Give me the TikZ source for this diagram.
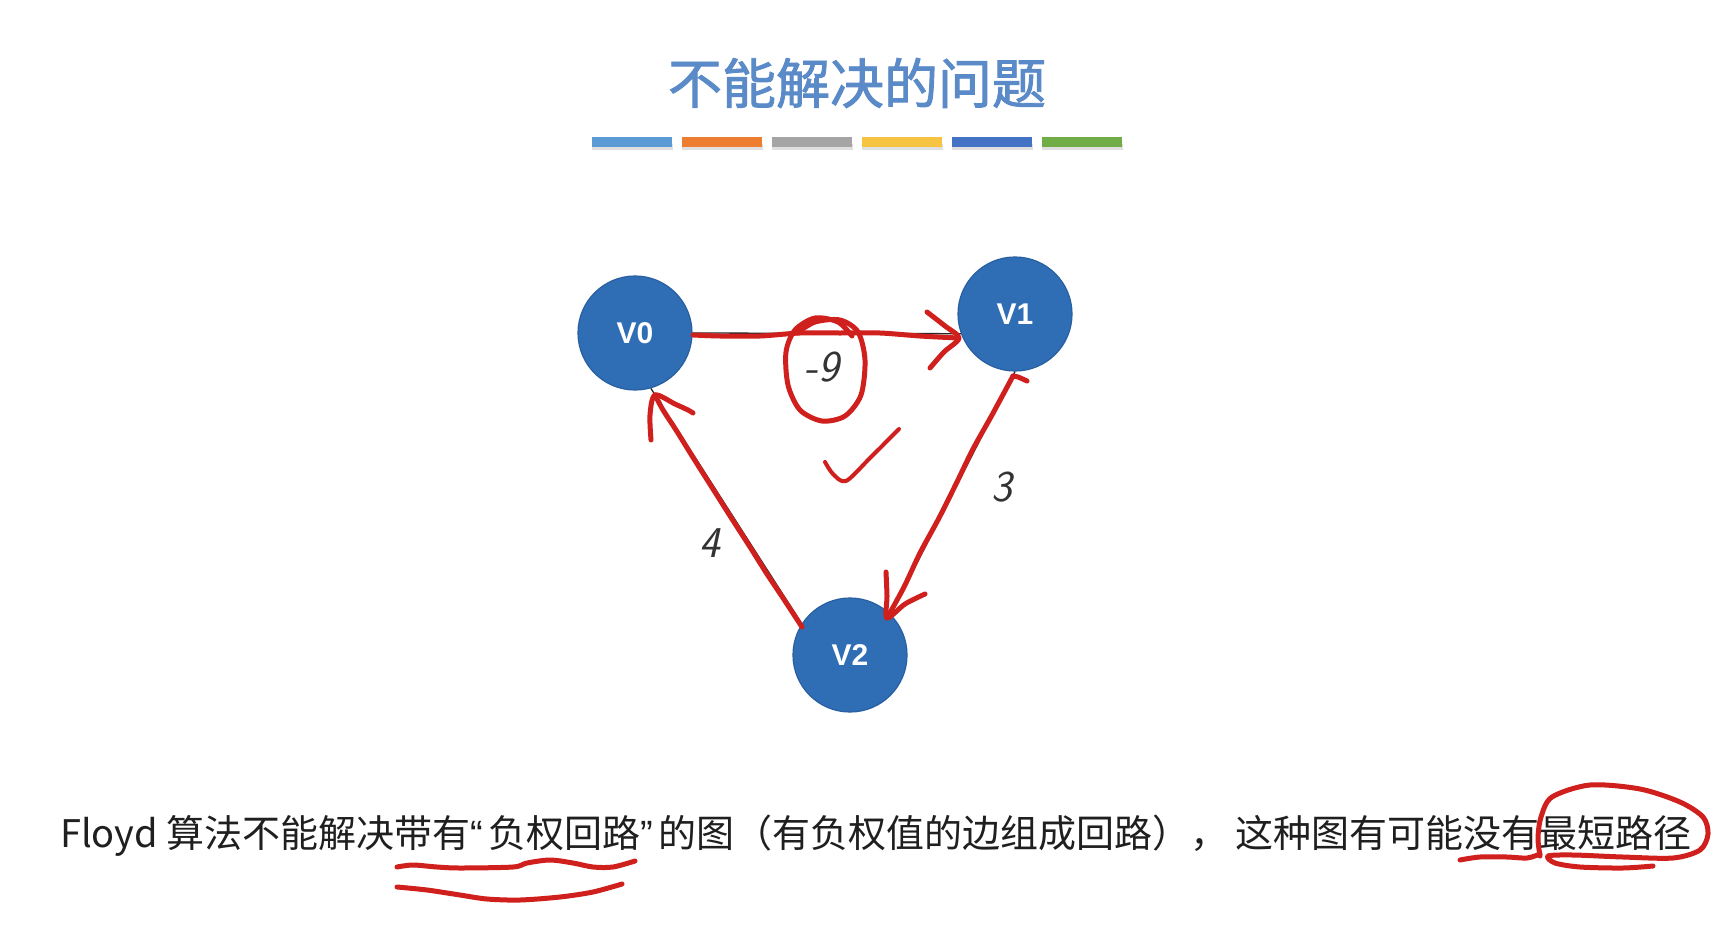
\documentclass[tikz,border=0pt]{standalone}
\usepackage{fontspec}
\setmainfont{Liberation Sans}
\newfontfamily\cjk{Noto Sans CJK SC}
\newfontfamily\cjktitle{Noto Sans CJK SC}[FakeBold=1.6]
\newfontfamily\qfont{Liberation Sans}
\definecolor{titleblue}{RGB}{90,138,200}
\definecolor{nodeblue}{RGB}{47,110,181}
\definecolor{nodeedge}{RGB}{40,95,160}
\definecolor{pen}{RGB}{208,32,30}
\definecolor{barA}{RGB}{91,155,213}
\definecolor{barB}{RGB}{237,125,49}
\definecolor{barC}{RGB}{165,165,165}
\definecolor{barD}{RGB}{246,195,66}
\definecolor{barE}{RGB}{68,114,196}
\definecolor{barF}{RGB}{112,173,71}
\begin{document}
\begin{tikzpicture}[x=1pt,y=-1pt,
  vtx/.style={circle, fill=nodeblue, draw=nodeedge, line width=1.2pt, minimum size=114pt, inner sep=0pt, text=white, font=\fontsize{30}{30}\selectfont\bfseries},
  edge/.style={draw=black!85, line width=1.3pt},
  pen/.style={draw=pen, line width=5pt, line cap=round, line join=round},
  wlab/.style={font=\sffamily\slshape\fontsize{44}{44}\selectfont, text=black!80},
  bar/.style={minimum width=80pt, minimum height=10pt, inner sep=0pt, draw=none}
]
\useasboundingbox (0,0) rectangle (1726,926);
\fill[white] (0,0) rectangle (1726,926);

% title
\node[font=\cjktitle\fontsize{54}{54}\selectfont, text=titleblue] (title) at (857,83) {不能解决的问题};

% colour bars
\foreach \c [count=\i] in {barA,barB,barC,barD,barE,barF} {
  \fill[black, opacity=0.12] ({632+(\i-1)*90-40},144) rectangle ({632+(\i-1)*90+41},150);
  \node[bar, fill=\c] (bar\i) at ({632+(\i-1)*90},142) {};
}

% vertices
\node[vtx] (V0) at (635,333) {V0};
\node[vtx] (V1) at (1015,314) {V1};
\node[vtx] (V2) at (850,655) {V2};

% original edges
\draw[edge] (V0.east) -- (V1.200);
\draw[edge] (V1.south) -- (V2.north east);
\draw[edge] (V2.147) -- (V0.-74);

% weights
\node[wlab] (w01) at (822,367) {-9};
\node[wlab] (w12) at (1002,487) {3};
\node[wlab] (w20) at (710,543) {4};

% red pen: V0 -> V1
\draw[pen] plot[smooth] coordinates {(693,335) (720,336) (760,336) (800,333) (840,333) (880,333) (920,336) (958,338)};
\draw[pen] plot[smooth] coordinates {(927,312) (945,326) (959,338) (944,352) (930,368)};
% circle around -9
\draw[pen] plot[smooth] coordinates {(797,333) (815,322) (840,320) (858,332) (865,360) (861,395) (845,416) (822,421) (800,410) (788,385) (786,352) (795,330) (815,318) (838,322) (852,336)};
% check mark
\draw[pen, line width=4pt] plot[smooth] coordinates {(825,462) (833,474) (846,481) (870,458) (899,429)};
% red pen: V1 -> V2
\draw[pen] plot[smooth] coordinates {(1027,381) (1018,377) (1013,376)};
\draw[pen] plot[smooth] coordinates {(1013,376) (992,415) (973,449) (956,484) (939,518) (920,553) (904,587) (887,618)};
\draw[pen] plot[smooth] coordinates {(886,572) (887,596) (887,618) (905,604) (925,594)};
% red pen: V2 -> V0
\draw[pen] plot[smooth] coordinates {(802,627) (785,601) (767,574) (750,547) (732,519) (713,489) (694,459) (676,430) (663,410) (655,395)};
\draw[pen] plot[smooth] coordinates {(651,440) (650,415) (655,395) (675,404) (688,410) (693,413)};

% description
\node[anchor=west, inner sep=0pt, text=black!88, font=\cjk\fontsize{38}{38}\selectfont] (desc) at (60,836) {Floyd 算法不能解决带有{\qfont “}\hspace{5pt}负权回路{\qfont ”}\hspace{6pt}的图（有负权值的边组成回路），\hspace{7pt}这种图有可能没有最短路径};

% red pen: underlines and ellipse
\draw[pen] plot[smooth] coordinates {(397,867) (413,865) (437,867) (460,868) (513,867) (527,863) (550,860) (573,863) (593,867) (613,867) (635,861)};
\draw[pen] plot[smooth] coordinates {(397,887) (427,890) (460,895) (487,899) (520,900) (560,897) (593,892) (622,884)};
\draw[pen] plot[smooth] coordinates {(1460,860) (1480,857) (1507,857) (1527,858) (1540,854)};
\draw[pen] plot[smooth] coordinates {(1540,856) (1538,838) (1541,817) (1552,797) (1590,785) (1640,789) (1680,802) (1703,817) (1708,834) (1700,850) (1673,858) (1623,857) (1573,855) (1548,856) (1555,863) (1580,867) (1623,868) (1653,866)};
\end{tikzpicture}
\end{document}
